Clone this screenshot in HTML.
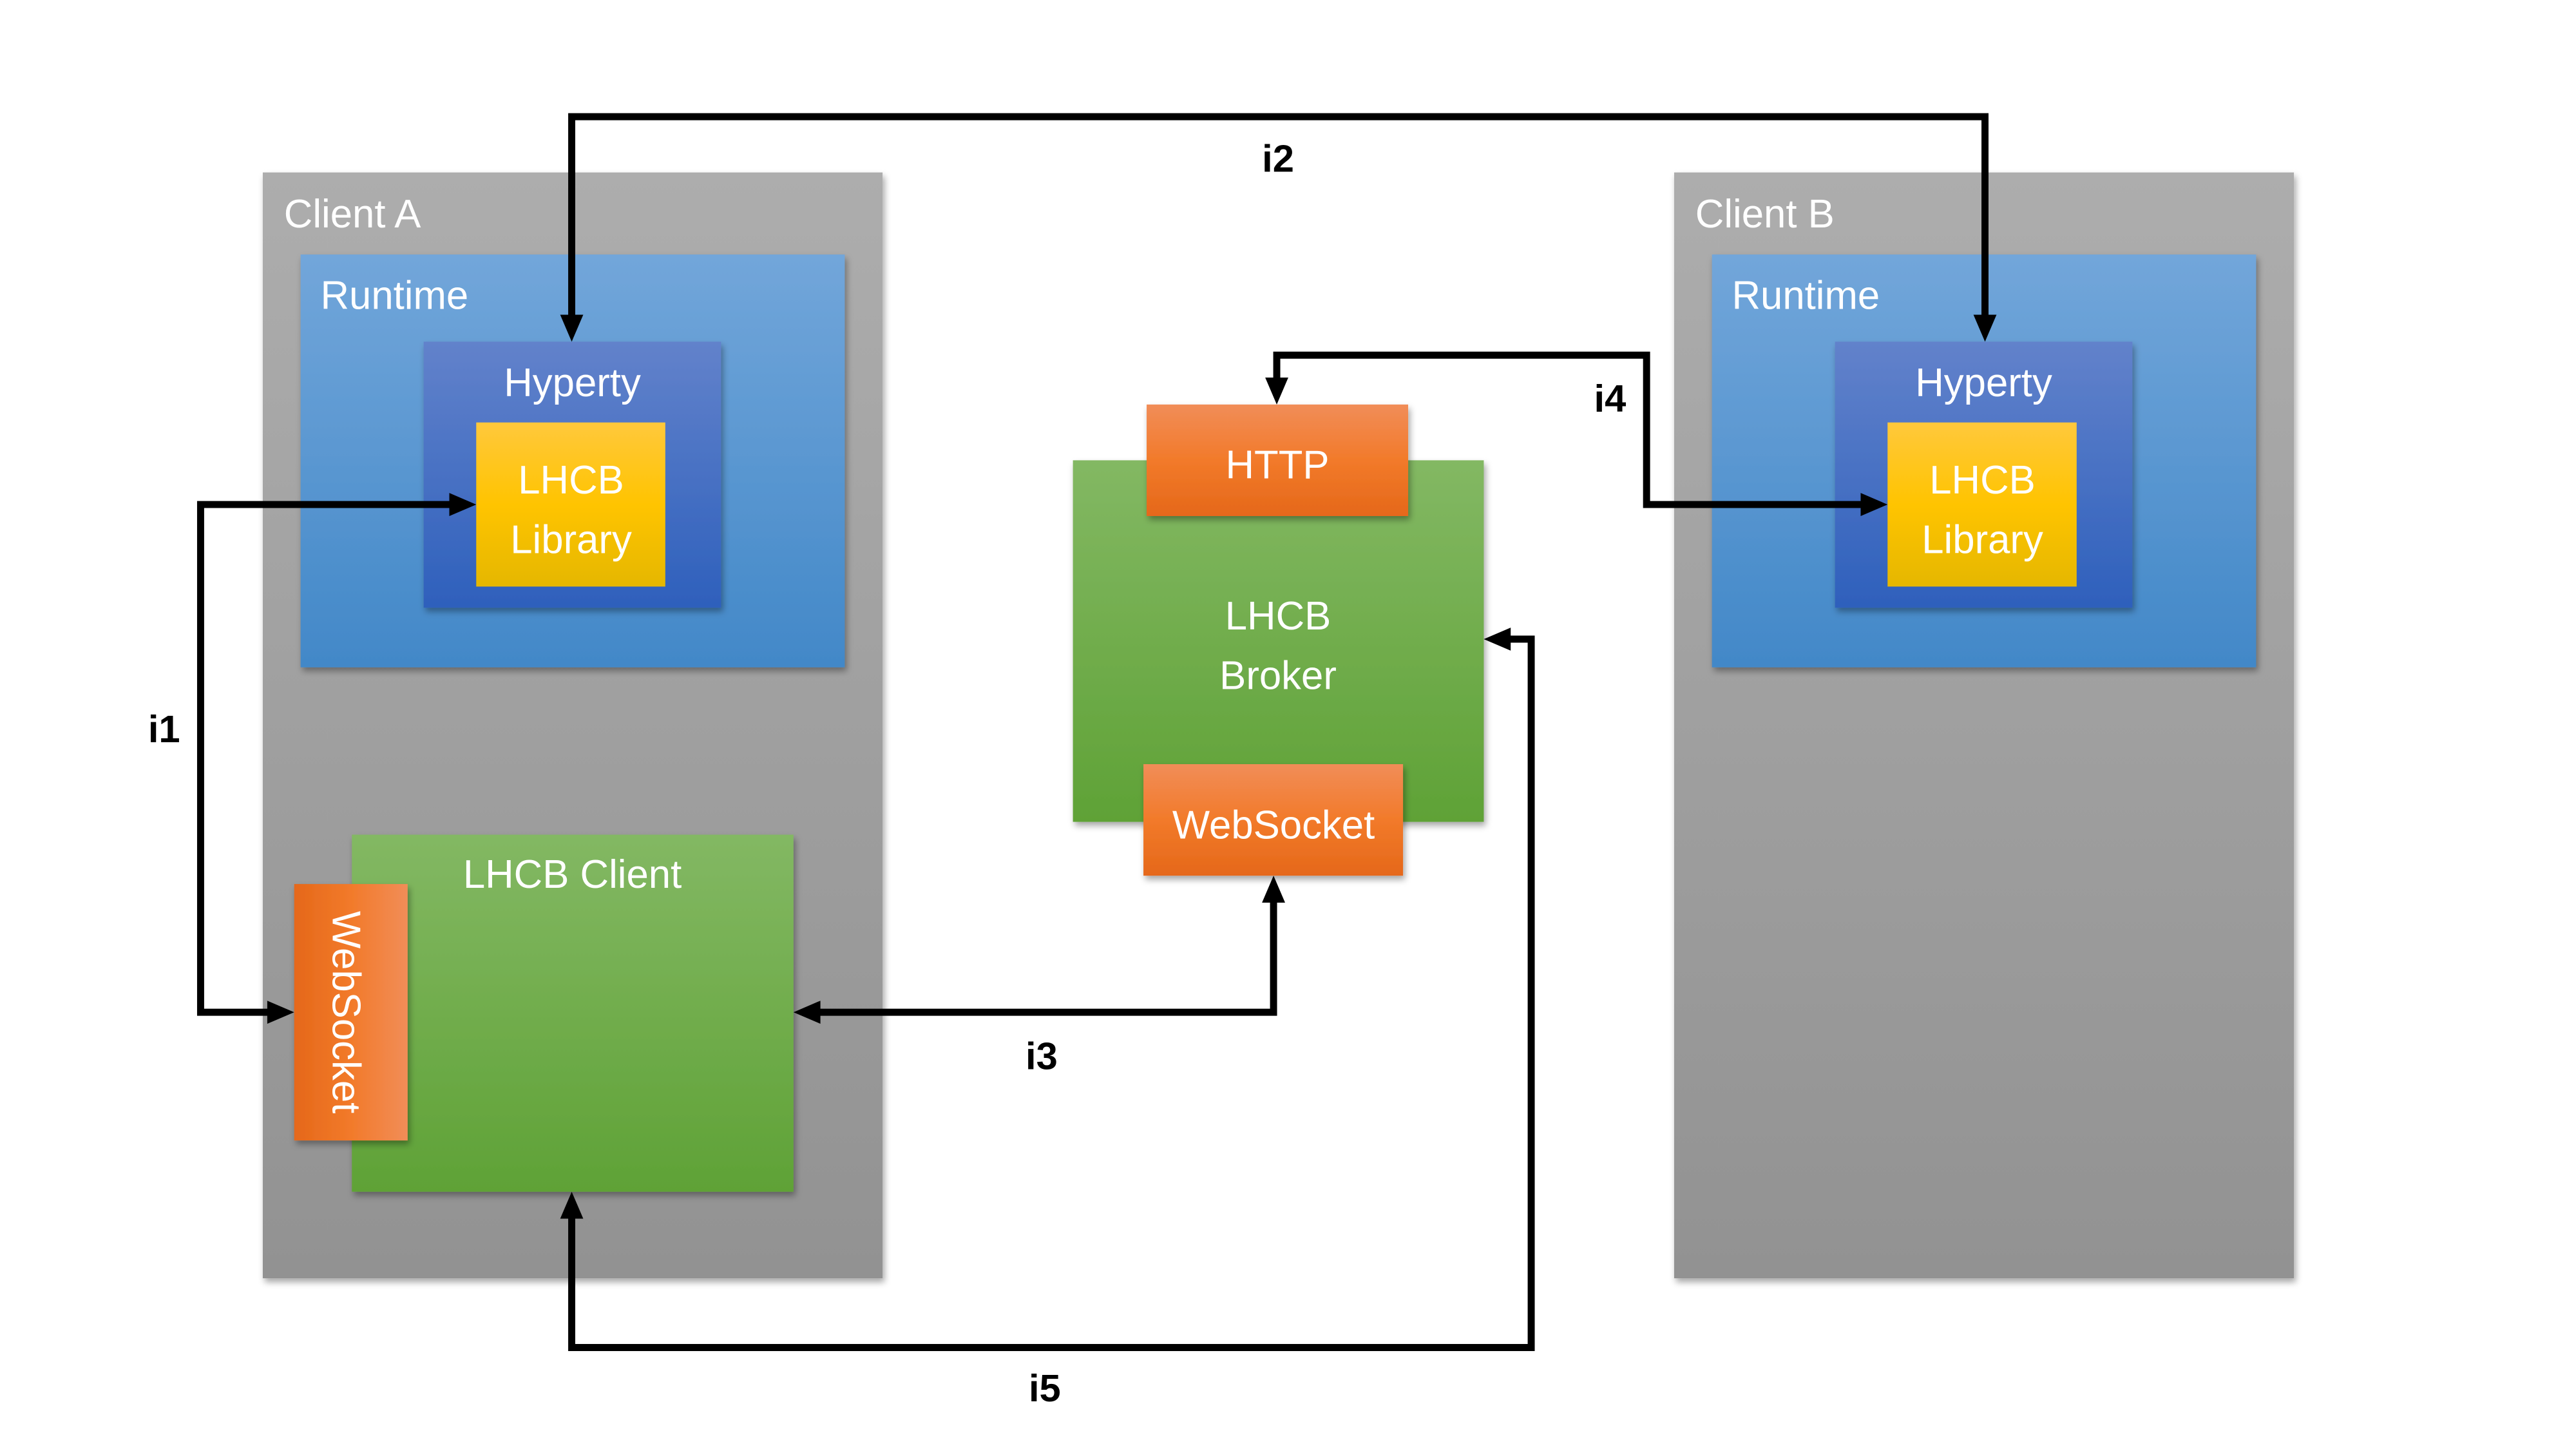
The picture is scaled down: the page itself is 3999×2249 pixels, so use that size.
<!DOCTYPE html>
<html><head><meta charset="utf-8"><style>
html,body{margin:0;padding:0;background:#fff;}
svg{display:block;}
text{font-family:"Liberation Sans",sans-serif;}
</style></head><body>
<svg width="3999" height="2249" viewBox="0 0 3999 2249" xmlns="http://www.w3.org/2000/svg">
<defs>
<linearGradient id="gray" x1="0" y1="0" x2="0" y2="1"><stop offset="0" stop-color="#adadad"/><stop offset="1" stop-color="#929292"/></linearGradient>
<linearGradient id="blue" x1="0" y1="0" x2="0" y2="1"><stop offset="0" stop-color="#72a6da"/><stop offset="1" stop-color="#4288c8"/></linearGradient>
<linearGradient id="hyp" x1="0" y1="0" x2="0" y2="1"><stop offset="0" stop-color="#6282cb"/><stop offset="1" stop-color="#2e60bc"/></linearGradient>
<linearGradient id="lib" x1="0" y1="0" x2="0" y2="1"><stop offset="0" stop-color="#ffc83c"/><stop offset="0.5" stop-color="#ffc400"/><stop offset="1" stop-color="#e5b700"/></linearGradient>
<linearGradient id="green" x1="0" y1="0" x2="0" y2="1"><stop offset="0" stop-color="#83b863"/><stop offset="1" stop-color="#5fa236"/></linearGradient>
<linearGradient id="orv" x1="0" y1="0" x2="0" y2="1"><stop offset="0" stop-color="#f18d58"/><stop offset="0.5" stop-color="#f27a2a"/><stop offset="1" stop-color="#e5681a"/></linearGradient>
<linearGradient id="orh" x1="0" y1="0" x2="1" y2="0"><stop offset="0" stop-color="#e5681a"/><stop offset="0.5" stop-color="#f27a2a"/><stop offset="1" stop-color="#f18d58"/></linearGradient>
<filter id="sh" x="-5%" y="-5%" width="115%" height="115%"><feDropShadow dx="3" dy="6" stdDeviation="5" flood-color="#000" flood-opacity="0.35"/></filter>
</defs>
<g transform="scale(0.995)">
<!-- Client A -->
<rect x="410" y="269" width="967" height="1725" fill="url(#gray)" filter="url(#sh)"/>
<text x="443" y="355" font-size="62" fill="#fff">Client A</text>
<rect x="469" y="397" width="849" height="644" fill="url(#blue)" filter="url(#sh)"/>
<text x="500" y="482" font-size="62" fill="#fff">Runtime</text>
<rect x="661" y="533" width="464" height="415" fill="url(#hyp)" filter="url(#sh)"/>
<text x="893" y="618" font-size="62" fill="#fff" text-anchor="middle">Hyperty</text>
<rect x="743" y="659" width="295" height="256" fill="url(#lib)"/>
<text x="891" y="770" font-size="62" fill="#fff" text-anchor="middle">LHCB</text>
<text x="891" y="863" font-size="62" fill="#fff" text-anchor="middle">Library</text>
<rect x="549" y="1302" width="689" height="557" fill="url(#green)" filter="url(#sh)"/>
<text x="893" y="1385" font-size="62" fill="#fff" text-anchor="middle">LHCB Client</text>
<rect x="459" y="1379" width="177" height="400" fill="url(#orh)" filter="url(#sh)"/>
<text transform="translate(519,1579) rotate(90)" font-size="62" fill="#fff" text-anchor="middle">WebSocket</text>

<!-- Client B -->
<rect x="2612" y="269" width="967" height="1725" fill="url(#gray)" filter="url(#sh)"/>
<text x="2645" y="355" font-size="62" fill="#fff">Client B</text>
<rect x="2671" y="397" width="849" height="644" fill="url(#blue)" filter="url(#sh)"/>
<text x="2702" y="482" font-size="62" fill="#fff">Runtime</text>
<rect x="2863" y="533" width="464" height="415" fill="url(#hyp)" filter="url(#sh)"/>
<text x="3095" y="618" font-size="62" fill="#fff" text-anchor="middle">Hyperty</text>
<rect x="2945" y="659" width="295" height="256" fill="url(#lib)"/>
<text x="3093" y="770" font-size="62" fill="#fff" text-anchor="middle">LHCB</text>
<text x="3093" y="863" font-size="62" fill="#fff" text-anchor="middle">Library</text>

<!-- Broker -->
<rect x="1674" y="718" width="641" height="564" fill="url(#green)" filter="url(#sh)"/>
<text x="1994" y="982" font-size="62" fill="#fff" text-anchor="middle">LHCB</text>
<text x="1994" y="1075" font-size="62" fill="#fff" text-anchor="middle">Broker</text>
<rect x="1789" y="631" width="408" height="174" fill="url(#orv)" filter="url(#sh)"/>
<text x="1993" y="746" font-size="62" fill="#fff" text-anchor="middle">HTTP</text>
<rect x="1784" y="1192" width="405" height="174" fill="url(#orv)" filter="url(#sh)"/>
<text x="1987" y="1308" font-size="62" fill="#fff" text-anchor="middle">WebSocket</text>

<!-- Connectors -->
<g fill="none" stroke="#000" stroke-width="11" stroke-linejoin="miter">
<polyline points="892,500 892,182 3097,182 3097,500"/>
<polyline points="710,787 313,787 313,1579 425,1579"/>
<polyline points="1272,1579 1987,1579 1987,1400"/>
<polyline points="1992,598 1992,554 2569,554 2569,787 2912,787"/>
<polyline points="892,1893 892,2102 2389,2102 2389,997 2349,997"/>
</g>
<g fill="#000">
<polygon points="892,533 874,491 910,491"/>
<polygon points="3097,533 3079,491 3115,491"/>
<polygon points="743,787 701,769 701,805"/>
<polygon points="459,1579 417,1561 417,1597"/>
<polygon points="1238,1579 1280,1561 1280,1597"/>
<polygon points="1987,1366 1969,1408 2005,1408"/>
<polygon points="1992,631 1974,589 2010,589"/>
<polygon points="2945,787 2903,769 2903,805"/>
<polygon points="892,1859 874,1901 910,1901"/>
<polygon points="2315,997 2357,979 2357,1015"/>
</g>
<g font-size="60" font-weight="bold" fill="#000" text-anchor="middle">
<text x="1994" y="268">i2</text>
<text x="256" y="1158">i1</text>
<text x="1625" y="1668">i3</text>
<text x="2512" y="642">i4</text>
<text x="1630" y="2186">i5</text>
</g>
</g>
</svg>
</body></html>
